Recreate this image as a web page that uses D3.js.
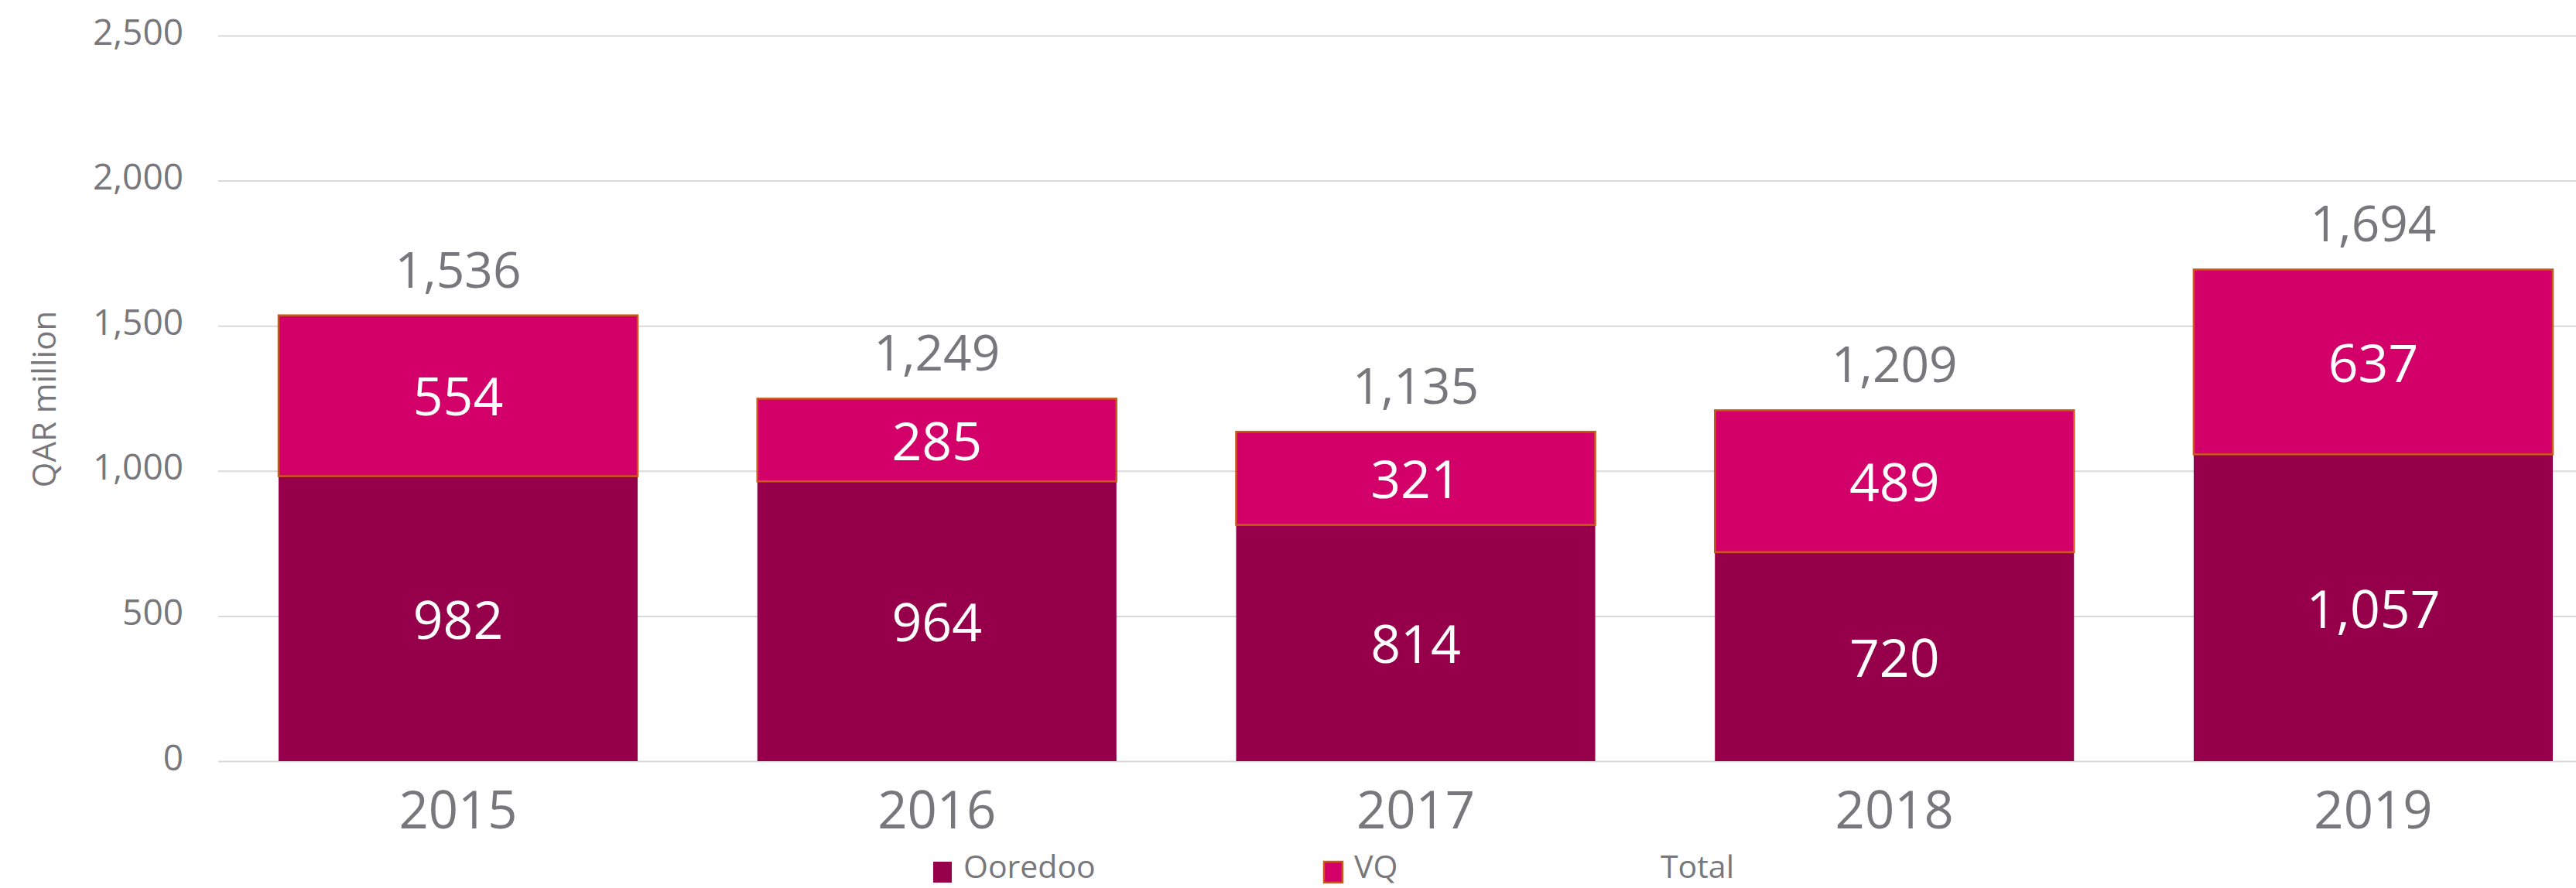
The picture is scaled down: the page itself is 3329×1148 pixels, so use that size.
<!DOCTYPE html>
<html>
<head>
<meta charset="utf-8">
<script src="https://cdn.jsdelivr.net/npm/d3@7"></script>
<style>
  html, body { margin: 0; padding: 0; background: #ffffff; }
  svg { display: block; }
  text { font-family: "Open Sans", "Noto Sans", sans-serif; }
</style>
</head>
<body>
<svg id="chart" width="3329" height="1148"></svg>
<script>
// ---- Data ----
const years = ["2015", "2016", "2017", "2018", "2019"];
const ooredoo = [982, 964, 814, 720, 1057];
const vq = [554, 285, 321, 489, 637];
const totals = [1536, 1249, 1135, 1209, 1694];
const yTicks = [0, 500, 1000, 1500, 2000, 2500];
const seriesNames = ["Ooredoo", "VQ"];
const legendLabels = ["Ooredoo", "VQ", "Total"];
const yTitle = "QAR million";

// ---- Styles ----
const W = 3329, H = 1148;
const colors = { Ooredoo: "#96004a", VQ: "#d4006a" };
const vqStroke = "#c95a1a";
const textGrey = "#77777c";
const gridGrey = "#d9d9d9";

const svg = d3.select("#chart");

const table = years.map((y, i) => ({ year: y, Ooredoo: ooredoo[i], VQ: vq[i], Total: totals[i] }));

const x = d3.scaleBand().domain(years).range([360, 3299]).paddingInner(0.25).paddingOuter(0);
const y = d3.scaleLinear().domain([0, 2500]).range([984, 46]);

// Gridlines + y tick labels
const yAxis = d3.axisLeft(y)
  .tickValues(yTicks)
  .tickSize(-(W - 282))
  .tickPadding(45)
  .tickFormat(d3.format(","));
const gy = svg.append("g").attr("transform", "translate(282,0)").call(yAxis);
gy.select(".domain").remove();
gy.selectAll(".tick line").attr("stroke", gridGrey).attr("stroke-width", 2);
gy.selectAll(".tick text")
  .attr("fill", textGrey)
  .attr("font-size", 46)
  .attr("dy", "0.24em")
  .style("font-family", "'Open Sans', sans-serif");

// Y title
svg.append("text")
  .attr("transform", "translate(72,516) rotate(-90)")
  .attr("text-anchor", "middle")
  .attr("fill", textGrey)
  .attr("font-size", 42)
  .text(yTitle);

// Stacked bars
const stack = d3.stack().keys(seriesNames);
const stacked = stack(table);

const layers = svg.append("g").selectAll("g")
  .data(stacked)
  .join("g");

layers.selectAll("rect")
  .data(s => s.map(d => ({ key: s.key, d })))
  .join("rect")
  .attr("x", p => x(p.d.data.year))
  .attr("width", x.bandwidth())
  .attr("y", p => y(p.d[1]))
  .attr("height", p => y(p.d[0]) - y(p.d[1]))
  .attr("fill", p => colors[p.key])
  .attr("stroke", p => p.key === "VQ" ? vqStroke : "none")
  .attr("stroke-width", p => p.key === "VQ" ? 2.5 : 0);

// Segment labels
layers.selectAll("text")
  .data(s => s.map(d => ({ key: s.key, d })))
  .join("text")
  .attr("x", p => x(p.d.data.year) + x.bandwidth() / 2)
  .attr("y", p => (y(p.d[0]) + y(p.d[1])) / 2)
  .attr("dy", "0.38em")
  .attr("text-anchor", "middle")
  .attr("fill", "#ffffff")
  .attr("font-size", 68)
  .text(p => d3.format(",")(p.d.data[p.key]));

// Total labels
svg.append("g").selectAll("text")
  .data(table)
  .join("text")
  .attr("x", d => x(d.year) + x.bandwidth() / 2)
  .attr("y", d => y(d.Total) - 36)
  .attr("text-anchor", "middle")
  .attr("fill", textGrey)
  .attr("font-size", 64)
  .text(d => d3.format(",")(d.Total));

// X axis labels
const xAxis = d3.axisBottom(x).tickSize(0).tickPadding(39);
const gx = svg.append("g").attr("transform", "translate(0,984)").call(xAxis);
gx.select(".domain").remove();
gx.selectAll(".tick text")
  .attr("fill", textGrey)
  .attr("font-size", 67)
  .style("font-family", "'Open Sans', sans-serif");

// Legend
const legendPos = [
  { swatchX: 1206, textX: 1245, swatch: true },
  { swatchX: 1711, textX: 1750, swatch: true },
  { swatchX: null, textX: 2146, swatch: false }
];
const lg = svg.append("g");
legendLabels.forEach((lab, i) => {
  const p = legendPos[i];
  if (p.swatch) {
    lg.append("rect")
      .attr("x", p.swatchX)
      .attr("y", 1114)
      .attr("width", 24)
      .attr("height", 27)
      .attr("fill", colors[lab])
      .attr("stroke", lab === "VQ" ? vqStroke : "none")
      .attr("stroke-width", lab === "VQ" ? 2.5 : 0);
  }
  lg.append("text")
    .attr("x", p.textX)
    .attr("y", 1135)
    .attr("fill", textGrey)
    .attr("font-size", 41)
    .text(lab);
});
</script>
</body>
</html>
